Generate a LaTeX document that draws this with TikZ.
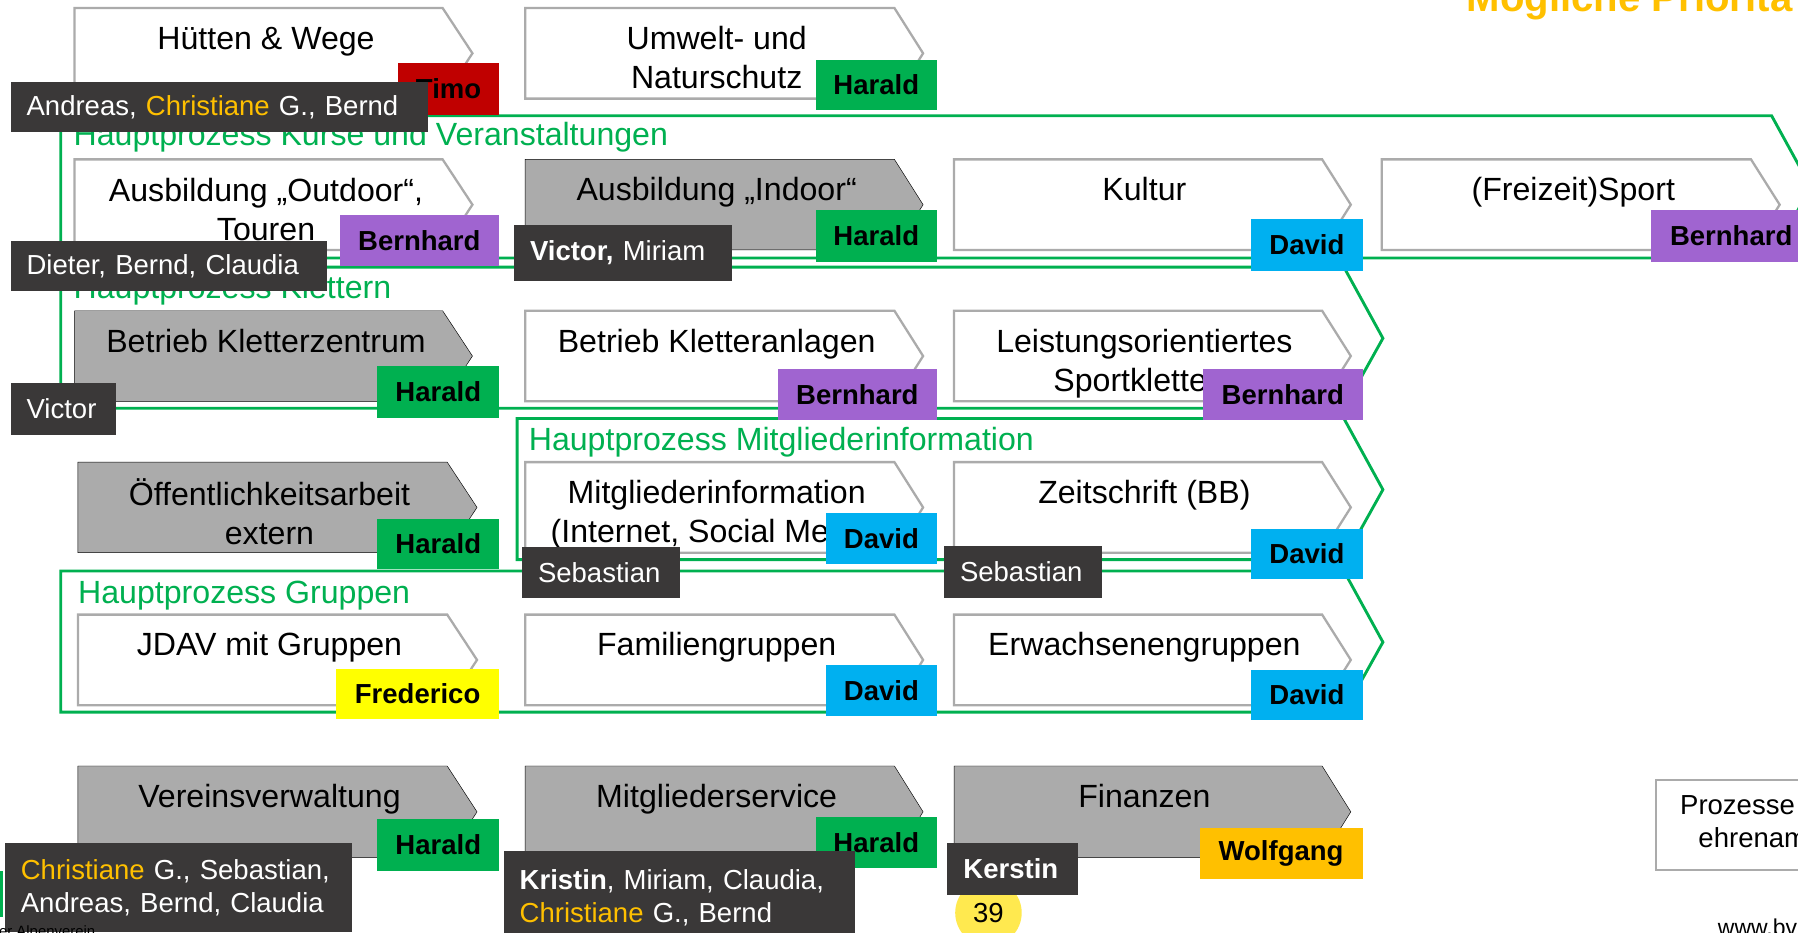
\documentclass[tikz,border=0pt]{standalone}
\usepackage{fontspec}
\setmainfont{Liberation Sans}
\usepackage{xcolor}
\usepackage{tikz}

\definecolor{dgreen}{HTML}{00B050}
\definecolor{boxgray}{HTML}{ABABAB}
\definecolor{labeldark}{HTML}{3A3838}
\definecolor{tagpurple}{HTML}{A064D0}
\definecolor{tagblue}{HTML}{00B0F0}
\definecolor{tagred}{HTML}{C00000}
\definecolor{tagyellow}{HTML}{FFFF00}
\definecolor{tagorange}{HTML}{FFC000}
\definecolor{pageyellow}{HTML}{FFE94F}

\begin{document}
\begin{tikzpicture}[x=1pt,y=-1pt,
	frame/.style={draw=dgreen, line width=2.5pt, line join=miter},
	ftitle/.style={text=dgreen, font=\fontsize{28}{34}\selectfont, anchor=base west, inner sep=0pt},
	procw/.style={draw=boxgray, fill=white, line width=2pt},
	procg/.style={fill=boxgray},
	ptext/.style={font=\fontsize{28}{34}\selectfont, align=center, anchor=north, inner sep=0pt, execute at begin node=\strut},
	tag/.style={font=\bfseries\fontsize{24}{28}\selectfont, anchor=north west, inner sep=0pt, minimum height=45pt},
	who/.style={fill=labeldark, text=white, font=\fontsize{24}{28.5}\selectfont, anchor=north west, inner xsep=14pt, inner ysep=0pt, align=left, minimum height=45pt}]
			\useasboundingbox (0,0) rectangle (1568,813);
			%% Hauptprozesse
			\draw[frame] (53,101) -- (1545,101) -- (1579,163) -- (1545,225) -- (53,225) -- cycle;
			\draw[frame] (53,233) -- (1172,233) -- (1206,295) -- (1172,356) -- (53,356) -- cycle;
			\draw[frame] (451,365) -- (1172,365) -- (1206,427) -- (1172,488) -- (451,488) -- cycle;
			\draw[frame] (53,498) -- (1172,498) -- (1206,560) -- (1172,621) -- (53,621) -- cycle;
			\node[ftitle] (kurse) at (64,127) {Hauptprozess Kurse und Veranstaltungen};
			\node[ftitle] (klettern) at (64,260) {Hauptprozess Klettern};
			\node[ftitle] (mitglinfo) at (461,393) {Hauptprozess Mitgliederinformation};
			\node[ftitle] (gruppen) at (68,526) {Hauptprozess Gruppen};
			%% Prozesse
			\draw[procw] (65,7) -- ++(321,0) -- ++(26,39.5) -- ++(-26,39.5) -- ++(-321,0) -- cycle;
			\draw[procw] (458,7) -- ++(322,0) -- ++(25,39.5) -- ++(-25,39.5) -- ++(-322,0) -- cycle;
			\draw[procw] (65,139) -- ++(321,0) -- ++(26,39.5) -- ++(-26,39.5) -- ++(-321,0) -- cycle;
			\draw[procg] (458,139) -- ++(322,0) -- ++(25,39.5) -- ++(-25,39.5) -- ++(-322,0) -- cycle;
			\draw[procw] (832,139) -- ++(321,0) -- ++(25,39.5) -- ++(-25,39.5) -- ++(-321,0) -- cycle;
			\draw[procw] (1205,139) -- ++(322,0) -- ++(25,39.5) -- ++(-25,39.5) -- ++(-322,0) -- cycle;
			\draw[procg] (65,271) -- ++(321,0) -- ++(26,39.5) -- ++(-26,39.5) -- ++(-321,0) -- cycle;
			\draw[procw] (458,271) -- ++(322,0) -- ++(25,39.5) -- ++(-25,39.5) -- ++(-322,0) -- cycle;
			\draw[procw] (832,271) -- ++(321,0) -- ++(25,39.5) -- ++(-25,39.5) -- ++(-321,0) -- cycle;
			\draw[procg] (68,403) -- ++(322,0) -- ++(26,39.5) -- ++(-26,39.5) -- ++(-322,0) -- cycle;
			\draw[procw] (458,403) -- ++(322,0) -- ++(25,39.5) -- ++(-25,39.5) -- ++(-322,0) -- cycle;
			\draw[procw] (832,403) -- ++(321,0) -- ++(25,39.5) -- ++(-25,39.5) -- ++(-321,0) -- cycle;
			\draw[procw] (68,536) -- ++(322,0) -- ++(26,39.5) -- ++(-26,39.5) -- ++(-322,0) -- cycle;
			\draw[procw] (458,536) -- ++(322,0) -- ++(25,39.5) -- ++(-25,39.5) -- ++(-322,0) -- cycle;
			\draw[procw] (832,536) -- ++(321,0) -- ++(25,39.5) -- ++(-25,39.5) -- ++(-321,0) -- cycle;
			\draw[procg] (68,668) -- ++(322,0) -- ++(26,40) -- ++(-26,40) -- ++(-322,0) -- cycle;
			\draw[procg] (458,668) -- ++(322,0) -- ++(25,40) -- ++(-25,40) -- ++(-322,0) -- cycle;
			\draw[procg] (832,668) -- ++(321,0) -- ++(25,40) -- ++(-25,40) -- ++(-321,0) -- cycle;
			\node[ptext] (huetten) at (232,19) {Hütten \& Wege};
			\node[ptext] (umwelt) at (625,22.5) {Umwelt- und\\Naturschutz};
			\node[ptext] (outdoor) at (232,155) {Ausbildung „Outdoor“,\\Touren};
			\node[ptext] (indoor) at (625,151) {Ausbildung „Indoor“};
			\node[ptext] (kultur) at (998,151) {Kultur};
			\node[ptext] (sport) at (1372,151) {(Freizeit)Sport};
			\node[ptext] (kzentrum) at (232,283) {Betrieb Kletterzentrum};
			\node[ptext] (kanlagen) at (625,283) {Betrieb Kletteranlagen};
			\node[ptext] (leistung) at (998,287) {Leistungsorientiertes\\Sportklettern};
			\node[ptext] (oeffentlich) at (235,417.5) {Öffentlichkeitsarbeit\\extern};
			\node[ptext] (mginfo) at (625,419) {Mitgliederinformation\\(Internet, Social Media)};
			\node[ptext] (zeitschrift) at (998,415) {Zeitschrift (BB)};
			\node[ptext] (jdav) at (235,548) {JDAV mit Gruppen};
			\node[ptext] (familie) at (625,548) {Familiengruppen};
			\node[ptext] (erwachsene) at (998,548) {Erwachsenengruppen};
			\node[ptext] (verein) at (235,680) {Vereinsverwaltung};
			\node[ptext] (mgservice) at (625,680) {Mitgliederservice};
			\node[ptext] (finanzen) at (998,680) {Finanzen};
			%% page number
			\node[circle, fill=pageyellow, minimum size=58pt, inner sep=0pt, font=\fontsize{24}{28}\selectfont] (seite) at (862,796) {39};
			%% Verantwortliche
			\node[tag, fill=tagred, minimum width=88pt] (timo) at (347,55) {Timo};
			\node[tag, fill=dgreen, minimum width=106pt, minimum height=44pt] (harald1) at (711,52) {Harald};
			\node[tag, fill=tagpurple, minimum width=139pt] (bernhard1) at (296,187) {Bernhard};
			\node[tag, fill=dgreen, minimum width=106pt] (harald2) at (711,183) {Harald};
			\node[tag, fill=tagblue, minimum width=97pt] (david1) at (1091,191) {David};
			\node[tag, fill=tagpurple, minimum width=139pt] (bernhard2) at (1440,183) {Bernhard};
			\node[tag, fill=dgreen, minimum width=106pt] (harald3) at (329,319) {Harald};
			\node[tag, fill=tagpurple, minimum width=139pt, minimum height=44pt] (bernhard3) at (678,322) {Bernhard};
			\node[tag, fill=tagpurple, minimum width=139pt, minimum height=44pt] (bernhard4) at (1049,322) {Bernhard};
			\node[tag, fill=dgreen, minimum width=106pt, minimum height=44pt] (harald4) at (329,452) {Harald};
			\node[tag, fill=tagblue, minimum width=97pt] (david2) at (720,447) {David};
			\node[tag, fill=tagblue, minimum width=97pt, minimum height=44pt] (david3) at (1091,461) {David};
			\node[tag, fill=tagyellow, minimum width=142pt, minimum height=44pt] (frederico) at (293,583) {Frederico};
			\node[tag, fill=tagblue, minimum width=97pt, minimum height=44pt] (david4) at (720,580) {David};
			\node[tag, fill=tagblue, minimum width=97pt, minimum height=44pt] (david5) at (1091,584) {David};
			\node[tag, fill=dgreen, minimum width=106pt] (harald5) at (329,714) {Harald};
			\node[tag, fill=dgreen, minimum width=106pt] (harald6) at (711,712) {Harald};
			\node[tag, fill=tagorange, minimum width=142pt, minimum height=44pt] (wolfgang) at (1046,722) {Wolfgang};
			%% Mitarbeiter
			\node[who, text width=336pt, minimum height=44pt] (andreas) at (9,71) {Andreas, \textcolor{tagorange}{Christiane} G., Bernd};
			\node[who, text width=248pt, minimum height=44pt] (dieter) at (9,210) {Dieter, Bernd, Claudia};
			\node[who, text width=162pt, minimum height=49pt] (victormiriam) at (448,196) {\textbf{Victor,} Miriam};
			\node[who, text width=64pt] (victor) at (9,334) {Victor};
			\node[who, text width=110pt, minimum height=44pt] (sebastian1) at (455,477) {Sebastian};
			\node[who, text width=110pt] (sebastian2) at (823,476) {Sebastian};
			\node[who, text width=275pt, minimum height=78pt] (christiane) at (4,735) {\textcolor{tagorange}{Christiane} G., Sebastian,\\Andreas, Bernd, Claudia};
			\node[who, text width=278pt, minimum height=82pt] (kristin) at (439,742) {\textbf{Kristin}, Miriam, Claudia,\\\textcolor{tagorange}{Christiane} G., Bernd};
			\node[who, text width=86pt] (kerstin) at (826,735) {\textbf{Kerstin}};
			%% Rand
			\node[anchor=base west, inner sep=0pt, text=tagorange, font=\bfseries\fontsize{35}{40}\selectfont] (titel) at (1279,10) {Mögliche Priorita};
			\draw[procw] (1444,680) rectangle (1620,759);
			\node[anchor=north west, inner sep=0pt, align=left, font=\fontsize{24}{28.5}\selectfont, execute at begin node=\strut] (ehrenamt) at (1465,694) {Prozesse\\\hspace*{16pt}ehrenam};
			\node[anchor=base west, inner sep=0pt, font=\fontsize{20}{24}\selectfont] (web) at (1498,816) {www.bv};
			\node[anchor=base west, inner sep=0pt, font=\fontsize{13}{15}\selectfont] (dav) at (-1,817) {er Alpenverein};
			\fill[dgreen] (0,760) rectangle (3,800);
		\end{tikzpicture}
\end{document}
